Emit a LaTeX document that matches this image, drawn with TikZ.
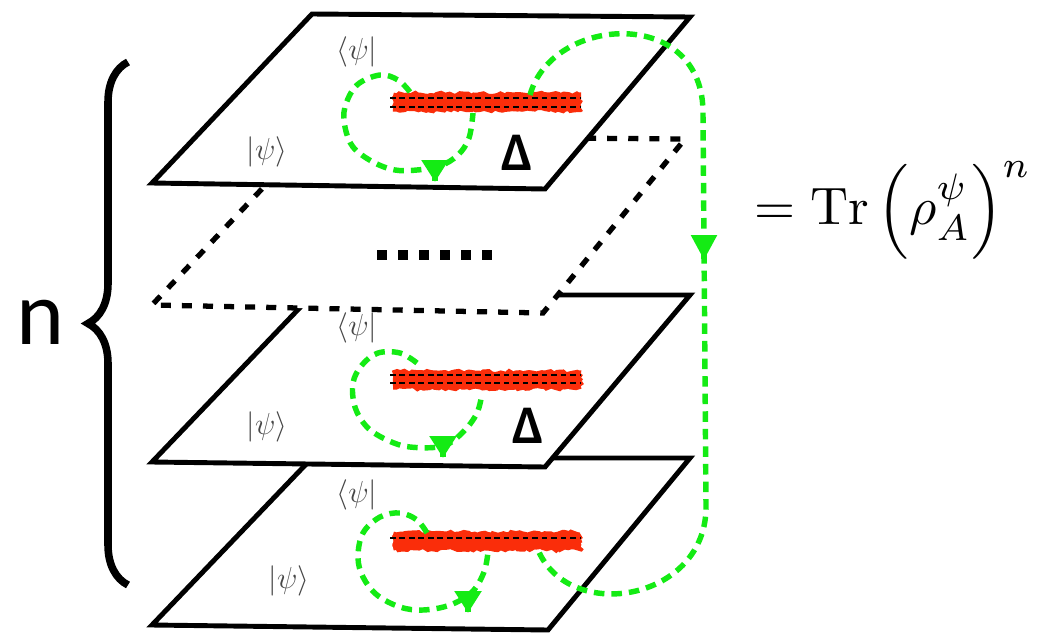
\documentclass[tikz,border=0pt]{standalone}
\usepackage{amsmath}
\usepackage{fontspec}
\usepackage{tikz}
\usetikzlibrary{
    arrows.meta,
    decorations.pathmorphing,
    decorations.pathreplacing
}
\newfontfamily\pptfont{Carlito}
\definecolor{SpinGreen}{RGB}{20,235,20}
\definecolor{CutRed}{RGB}{250,45,10}
\definecolor{LabelGray}{RGB}{70,70,70}
\tikzset{
  sheet/.style  = {draw, line width=2.8pt, fill=white, line join=miter},
  ghost/.style  = {draw, line width=3pt, fill=white,
                   dash pattern=on 5.7pt off 6.3pt},
  cutbar/.style = {CutRed, line width=4pt, decorate,
                   decoration={random steps, segment length=2pt, amplitude=0.9pt}},
  seam/.style   = {line width=1.5pt, dash pattern=on 3.2pt off 2.2pt}
}
\begin{document}
\begin{tikzpicture}[x=0.02cm, y=-0.02cm,
    loop/.style={draw=SpinGreen, line width=3.1pt, dash pattern=on 6pt off 4pt},
    tip/.style={SpinGreen, line width=3.1pt, -{Triangle[length=0.44cm, width=0.52cm]}},
    ket/.style={text=LabelGray, font=\fontsize{17.28}{20}\selectfont, inner sep=0pt},
    delta/.style={font=\pptfont\bfseries\fontsize{31}{36}\selectfont, inner sep=0pt}
]
\useasboundingbox (0,0) rectangle (1037,632);

% sheets, from the bottom one up
\draw[sheet] (312,458) -- (690,458) -- (548,630) -- (152,625) -- cycle;
\draw[sheet] (312,295) -- (690,295) -- (545,467) -- (152,462) -- cycle;
\draw[ghost] (312,136) -- (685,139) -- (543,313) -- (152,305) -- cycle;
\draw[sheet] (312,14) -- (690,17) -- (545,189) -- (152,183) -- cycle;
\draw[line width=5.7pt, dash pattern=on 5.7pt off 6.3pt] (377,255) -- (494,255);

% branch cuts
\foreach \yb in {102,380,541}
  \foreach \dy in {-6,-2,2,6}
    \draw[cutbar] (393,\yb+\dy) -- (581,\yb+\dy);
\foreach \ys in {98,107,375,383,538}
  \draw[seam] (390,\ys) -- (580,\ys);

% loops round the cuts
\draw[loop] plot[smooth, tension=0.6] coordinates {(410,92) (398,80) (380,75) (357,85)
    (345,107) (345,127) (353,147) (373,162) (395,170) (417,170) (440,166) (458,155)
    (469,138) (473,113)};
\draw[loop] plot[smooth, tension=0.6] coordinates {(417,363) (400,353) (378,353) (362,365)
    (353,383) (355,407) (367,427) (387,440) (410,447) (443,446) (463,432) (477,413)
    (482,393)};
\draw[loop] plot[smooth, tension=0.6] coordinates {(427,533) (417,520) (400,513) (380,517)
    (363,533) (358,557) (363,577) (377,595) (400,607) (423,610) (450,605) (472,592)
    (484,572) (488,552)};
\draw[tip] (435,181) -- (435,182);
\draw[tip] (443,457) -- (443,458);
\draw[tip] (468,612) -- (468,613);

% glue from top sheet to bottom sheet
\draw[loop] (530,95) .. controls (552,15) and (705,5) .. (703,115)
    -- (706,505) .. controls (708,600) and (570,625) .. (538,550);
\draw[tip, -{Triangle[length=0.5cm, width=0.5cm]}] (704,259) -- (704,260);

% labels
\node[ket] (bra1) at (357,52) {$\langle\psi|$};
\node[ket] (ket1) at (267,152) {$|\psi\rangle$};
\node[ket] (bra2) at (357,328) {$\langle\psi|$};
\node[ket] (ket2) at (267,427) {$|\psi\rangle$};
\node[ket] (bra3) at (357,495) {$\langle\psi|$};
\node[ket] (ket3) at (289,581) {$|\psi\rangle$};
\node[delta] (delta1) at (517,153) {Δ};
\node[delta] (delta2) at (528,426) {Δ};

\draw[decorate, decoration={brace, amplitude=0.8cm}, line width=4.3pt]
    (128,585) -- (128,62);
\node[font=\pptfont\fontsize{52}{60}\selectfont, inner sep=0pt] (copies) at (40,322) {n};
\node[scale=3, transform shape, inner sep=0pt] (trace) at (893,210)
    {$=\mathrm{Tr}\left(\rho_A^{\psi}\right)^{n}$};
\end{tikzpicture}
\end{document}
